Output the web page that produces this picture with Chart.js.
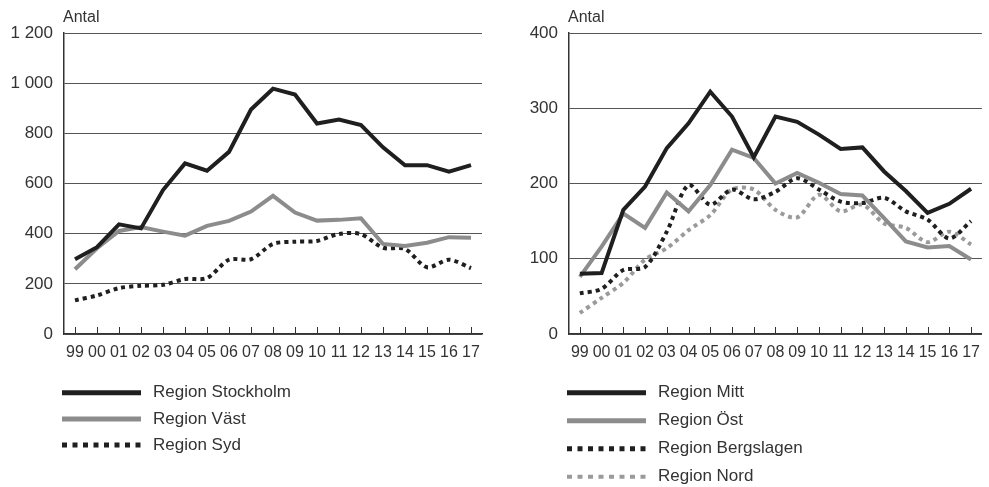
<!DOCTYPE html>
<html>
<head>
<meta charset="utf-8">
<script src="https://cdn.jsdelivr.net/npm/chart.js@4.4.1/dist/chart.umd.min.js"></script>
<style>
  html, body { margin: 0; padding: 0; background: #fff; }
  #wrap { position: relative; width: 989px; height: 487px; overflow: hidden; }
  #left { position: absolute; left: 0; top: 0; }
  #right { position: absolute; left: 495px; top: 0; }
</style>
</head>
<body>
<div id="wrap">
  <canvas id="left" width="494" height="487"></canvas>
  <canvas id="right" width="494" height="487"></canvas>
</div>
<script>
// ---- Data ----
const years = ['99','00','01','02','03','04','05','06','07','08','09','10','11','12','13','14','15','16','17'];
const unitLabel = 'Antal';

const leftTickLabels = ['0', '200', '400', '600', '800', '1 000', '1 200'];
const rightTickLabels = ['0', '100', '200', '300', '400'];

const leftSeriesNames = ['Region Stockholm', 'Region Väst', 'Region Syd'];
const stockholm = [298, 346, 437, 421, 574, 680, 651, 726, 895, 978, 955, 839, 855, 833, 744, 673, 673, 647, 673];
const vast      = [258, 342, 411, 426, 408, 392, 431, 451, 488, 551, 484, 452, 455, 461, 359, 351, 364, 386, 384];
const syd       = [134, 154, 183, 192, 196, 219, 223, 296, 298, 359, 368, 371, 399, 398, 344, 339, 266, 296, 263];

const rightSeriesNames = ['Region Mitt', 'Region Öst', 'Region Bergslagen', 'Region Nord'];
const mitt       = [80, 81, 165, 196, 247, 280, 322, 289, 235, 289, 282, 265, 246, 248, 216, 190, 161, 173, 193];
const ost        = [76, 116, 160, 141, 188, 163, 198, 245, 234, 200, 214, 201, 186, 184, 154, 123, 115, 117, 99];
const bergslagen = [54, 60, 85, 89, 136, 198, 172, 192, 179, 189, 207, 192, 176, 174, 181, 163, 152, 127, 150];
const nord       = [28, 48, 68, 99, 114, 138, 158, 192, 192, 165, 155, 185, 163, 172, 147, 141, 122, 136, 119];

// ---- Styles ----
const FONT = "'Liberation Sans', Arial, Helvetica, sans-serif";
const TEXT = '#333333';
const BLACK = '#1f1f1f';
const GREY = '#8c8c8c';
const LGREY = '#9a9a9a';

Chart.defaults.font.family = FONT;
Chart.defaults.color = TEXT;

function ds(label, data, color, dashed) {
  return {
    label, data,
    borderColor: color, backgroundColor: color,
    borderWidth: 4,
    borderDash: dashed ? [4, 4] : [],
    borderCapStyle: 'butt',
    borderJoinStyle: 'miter',
    pointRadius: 0, pointHoverRadius: 0,
    tension: dashed ? 0.3 : 0,
    legendWidth: dashed ? 5 : 5,
    legendDash: dashed ? [5, 5.5] : []
  };
}

const decor = {
  id: 'decor',
  beforeDatasetsDraw(chart, args, opts) {
    const ctx = chart.ctx, ca = chart.chartArea, xs = chart.scales.x;
    ctx.save();
    ctx.strokeStyle = '#333';
    ctx.lineWidth = 1;
    for (let i = 0; i < xs.ticks.length; i++) {
      const px = Math.round(xs.getPixelForTick(i)) + 0.5;
      ctx.beginPath();
      ctx.moveTo(px, ca.bottom - 7);
      ctx.lineTo(px, ca.bottom);
      ctx.stroke();
    }
    ctx.restore();
  },
  afterDraw(chart, args, opts) {
    const ctx = chart.ctx, ca = chart.chartArea;
    ctx.save();
    // unit label
    ctx.fillStyle = TEXT;
    ctx.font = '16px ' + FONT;
    ctx.textAlign = 'left';
    ctx.textBaseline = 'alphabetic';
    ctx.fillText(unitLabel, ca.left - 1, 21.5);
    // legend
    const x0 = ca.left - 2;
    chart.data.datasets.forEach((d, i) => {
      const y = opts.legendTop + i * opts.legendStep;
      ctx.beginPath();
      ctx.strokeStyle = d.borderColor;
      ctx.lineWidth = d.legendWidth;
      ctx.lineCap = 'butt';
      ctx.setLineDash(d.legendDash);
      ctx.moveTo(x0, y);
      ctx.lineTo(x0 + 79, y);
      ctx.stroke();
      ctx.setLineDash([]);
      ctx.fillStyle = TEXT;
      ctx.font = '17px ' + FONT;
      ctx.textBaseline = 'middle';
      ctx.fillText(d.label, ca.left + 89, y);
    });
    ctx.restore();
  }
};

function makeChart(id, datasets, max, step, tickLabels, yWidth, padRight, legendStep) {
  return new Chart(document.getElementById(id), {
    type: 'line',
    data: { labels: years, datasets },
    plugins: [decor],
    options: {
      responsive: false,
      animation: false,
      events: [],
      layout: { padding: { top: 33, right: padRight, bottom: 123, left: 0 } },
      plugins: {
        legend: { display: false },
        tooltip: { enabled: false },
        decor: { legendTop: 392.7, legendStep }
      },
      scales: {
        x: {
          offset: true,
          grid: { display: false, drawTicks: false },
          border: { display: true, color: '#333', width: 1.5 },
          ticks: { autoSkip: false, maxRotation: 0, minRotation: 0, padding: 9, color: TEXT, font: { size: 16 } },
          afterFit(s) { s.height = 30; }
        },
        y: {
          min: 0, max,
          ticks: {
            stepSize: step, padding: 11, color: TEXT, font: { size: 17 },
            callback: (v, i) => tickLabels[i]
          },
          grid: { color: '#555', lineWidth: 1, drawTicks: false },
          border: { display: true, color: '#333', width: 1.5 },
          afterFit(s) { s.width = yWidth; }
        }
      }
    }
  });
}

makeChart('left', [
  ds(leftSeriesNames[0], stockholm, BLACK, false),
  ds(leftSeriesNames[1], vast, GREY, false),
  ds(leftSeriesNames[2], syd, BLACK, true)
], 1200, 200, leftTickLabels, 64, 12, 26.2);

const rightSets = [
  ds(rightSeriesNames[0], mitt, BLACK, false),
  ds(rightSeriesNames[1], ost, GREY, false),
  ds(rightSeriesNames[2], bergslagen, BLACK, true),
  ds(rightSeriesNames[3], nord, LGREY, true)
];
rightSets[3].legendWidth = 4;
makeChart('right', rightSets, 400, 100, rightTickLabels, 74, 2, 28);
</script>
</body>
</html>
